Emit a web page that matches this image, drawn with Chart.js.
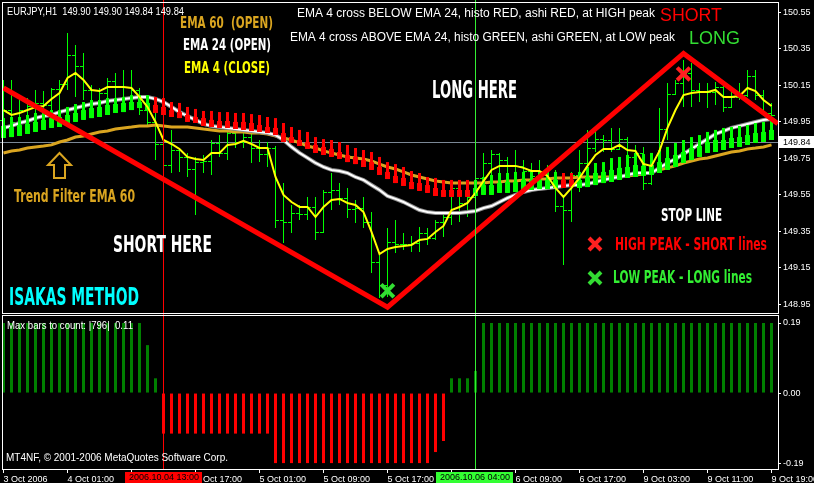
<!DOCTYPE html>
<html>
<head>
<meta charset="utf-8">
<title>EURJPY H1 - Isakas Method</title>
<script src="https://cdn.jsdelivr.net/npm/chart.js@4.4.1/dist/chart.umd.min.js"></script>
<style>
  html, body { margin: 0; padding: 0; background: #000; }
  #wrap { position: relative; width: 814px; height: 483px; overflow: hidden; background: #000; }
  canvas { position: absolute; left: 0; }
  #priceChart { top: 0; }
  #histoChart { top: 314px; }
</style>
</head>
<body>
<div id="wrap">
  <canvas id="priceChart" width="814" height="314"></canvas>
  <canvas id="histoChart" width="814" height="169"></canvas>
</div>
<script>
    // --- DATA (EURJPY H1, one bar per hour, bar 0 = 3 Oct 2006) ---

    const barOpen = [
        149.961,150.015,149.950,150.015,150.037,150.054,150.043,150.130,150.158,150.317,
        150.256,150.125,150.048,150.108,150.174,150.141,150.141,150.125,150.015,149.950,
        149.829,149.714,149.796,149.758,149.692,149.730,149.736,149.835,149.780,149.889,
        149.840,149.867,149.807,149.774,149.807,149.413,149.402,149.451,149.446,149.484,
        149.347,149.566,149.577,149.533,149.473,149.478,149.402,149.183,149.056,149.292,
        149.281,149.281,149.287,149.342,149.314,149.402,149.429,149.588,149.506,149.539,
        149.643,149.725,149.774,149.741,149.709,149.709,149.681,149.654,149.681,149.610,
        149.489,149.467,149.659,149.725,149.807,149.856,149.851,149.802,149.856,149.758,
        149.780,149.615,149.692,149.911,150.103,150.163,150.218,150.125,150.119,150.114,
        150.141,150.032,150.087,150.097,150.202,150.097,149.999
    ];
    const barHigh = [
        150.180,150.180,150.097,150.081,150.125,150.119,150.136,150.180,150.437,150.371,
        150.328,150.152,150.136,150.191,150.218,150.234,150.234,150.136,150.097,150.070,
        149.906,149.906,149.807,149.780,149.758,149.769,149.851,149.878,149.895,149.900,
        149.889,149.889,149.851,149.840,149.818,149.615,149.495,149.495,149.539,149.539,
        149.577,149.670,149.615,149.588,149.522,149.539,149.456,149.221,149.369,149.413,
        149.342,149.325,149.374,149.369,149.413,149.456,149.604,149.599,149.577,149.687,
        149.780,149.796,149.780,149.758,149.796,149.741,149.725,149.741,149.714,149.687,
        149.550,149.676,149.796,149.906,149.906,149.878,149.917,149.917,149.867,149.824,
        149.813,149.741,150.026,150.163,150.180,150.289,150.273,150.163,150.163,150.169,
        150.152,150.141,150.163,150.234,150.234,150.125,150.054
    ];
    const barLow = [
        149.867,149.917,149.933,149.961,149.906,149.999,149.977,149.999,150.125,150.087,
        150.070,150.037,150.015,150.054,149.999,150.070,150.054,149.988,149.933,149.741,
        149.687,149.670,149.676,149.648,149.440,149.670,149.659,149.758,149.741,149.807,
        149.807,149.725,149.730,149.703,149.369,149.287,149.342,149.413,149.413,149.303,
        149.342,149.467,149.495,149.424,149.396,149.369,149.122,148.985,148.991,149.232,
        149.248,149.237,149.237,149.276,149.303,149.320,149.385,149.402,149.429,149.495,
        149.550,149.593,149.659,149.648,149.588,149.648,149.621,149.615,149.577,149.456,
        149.166,149.402,149.566,149.632,149.785,149.785,149.785,149.796,149.730,149.687,
        149.577,149.604,149.670,149.851,150.097,150.032,150.032,150.059,150.026,150.043,
        150.004,150.026,150.070,150.087,150.070,149.982,149.961
    ];
    const barClose = [
        150.015,149.950,150.015,150.037,150.054,150.043,150.130,150.158,150.317,150.256,
        150.125,150.048,150.108,150.174,150.141,150.141,150.125,150.015,149.950,149.829,
        149.714,149.796,149.758,149.692,149.730,149.736,149.835,149.780,149.889,149.840,
        149.867,149.807,149.774,149.807,149.413,149.402,149.451,149.446,149.484,149.347,
        149.566,149.577,149.533,149.473,149.478,149.402,149.183,149.056,149.292,149.281,
        149.281,149.287,149.342,149.314,149.402,149.429,149.588,149.506,149.539,149.643,
        149.725,149.774,149.741,149.709,149.709,149.681,149.654,149.681,149.610,149.489,
        149.467,149.659,149.725,149.807,149.856,149.851,149.802,149.856,149.758,149.780,
        149.615,149.692,149.911,150.103,150.163,150.218,150.125,150.119,150.114,150.141,
        150.032,150.087,150.097,150.202,150.097,149.999,149.988
    ];

    // Heiken Ashi
    const haHigh = [
        149.971,149.977,149.977,149.988,149.999,150.004,150.015,150.015,150.032,150.048,
        150.059,150.070,150.070,150.081,150.081,150.087,150.097,150.097,150.097,150.087,
        150.081,150.059,150.054,150.032,150.021,150.010,150.010,150.004,150.004,149.999,
        149.999,149.993,149.988,149.977,149.971,149.944,149.922,149.906,149.895,149.867,
        149.856,149.851,149.840,149.824,149.807,149.796,149.785,149.758,149.730,149.719,
        149.703,149.681,149.670,149.648,149.643,149.632,149.632,149.632,149.632,149.632,
        149.648,149.659,149.670,149.670,149.676,149.676,149.676,149.676,149.676,149.676,
        149.670,149.670,149.676,149.703,149.725,149.730,149.752,149.758,149.769,149.780,
        149.774,149.780,149.796,149.813,149.835,149.851,149.867,149.878,149.895,149.906,
        149.917,149.922,149.928,149.933,149.944,149.950,149.961
    ];
    const haOpen = [
        149.862,149.867,149.873,149.884,149.895,149.906,149.917,149.922,149.933,149.950,
        149.961,149.971,149.977,149.988,149.999,150.004,150.015,150.026,150.015,150.043,
        150.032,150.015,150.004,149.988,149.977,149.971,149.961,149.955,149.955,149.950,
        149.950,149.944,149.933,149.922,149.917,149.889,149.867,149.851,149.840,149.824,
        149.813,149.802,149.785,149.769,149.758,149.741,149.730,149.703,149.676,149.654,
        149.643,149.621,149.615,149.604,149.588,149.577,149.577,149.577,149.577,149.544,
        149.550,149.550,149.561,149.561,149.566,149.572,149.577,149.582,149.582,149.588,
        149.632,149.632,149.588,149.593,149.604,149.615,149.621,149.632,149.643,149.648,
        149.654,149.659,149.670,149.687,149.703,149.725,149.741,149.758,149.780,149.785,
        149.796,149.807,149.813,149.824,149.835,149.840,149.851
    ];
    const haClose = [
        149.928,149.922,149.933,149.939,149.950,149.961,149.971,149.977,149.988,149.999,
        150.015,150.026,150.032,150.043,150.048,150.054,150.059,150.059,150.054,149.999,
        149.988,149.977,149.971,149.950,149.944,149.928,149.922,149.917,149.917,149.911,
        149.906,149.900,149.895,149.889,149.878,149.840,149.835,149.818,149.802,149.780,
        149.769,149.758,149.747,149.730,149.719,149.703,149.687,149.659,149.637,149.615,
        149.599,149.582,149.572,149.561,149.544,149.539,149.539,149.539,149.539,149.588,
        149.604,149.604,149.615,149.621,149.621,149.632,149.632,149.632,149.632,149.632,
        149.588,149.593,149.632,149.648,149.670,149.676,149.687,149.698,149.703,149.714,
        149.709,149.714,149.730,149.752,149.769,149.785,149.807,149.818,149.840,149.851,
        149.851,149.862,149.867,149.878,149.889,149.895,149.906
    ];

    // Moving averages
    const ema60 = [
        149.780,149.791,149.796,149.807,149.813,149.818,149.824,149.840,149.851,149.867,
        149.873,149.884,149.895,149.900,149.911,149.917,149.922,149.928,149.928,149.933,
        149.928,149.922,149.922,149.922,149.917,149.911,149.906,149.900,149.900,149.895,
        149.895,149.889,149.889,149.884,149.873,149.862,149.851,149.835,149.818,149.807,
        149.791,149.780,149.769,149.758,149.752,149.747,149.736,149.719,149.703,149.692,
        149.676,149.659,149.648,149.637,149.626,149.621,149.615,149.615,149.615,149.615,
        149.615,149.621,149.621,149.626,149.626,149.632,149.632,149.637,149.637,149.643,
        149.643,149.643,149.648,149.648,149.648,149.648,149.648,149.654,149.654,149.659,
        149.665,149.676,149.687,149.698,149.709,149.725,149.736,149.747,149.752,149.763,
        149.774,149.785,149.791,149.802,149.807,149.813,149.824
    ];
    const ema24 = [
        149.917,149.928,149.944,149.955,149.971,149.982,149.988,150.004,150.015,150.026,
        150.037,150.048,150.054,150.065,150.070,150.076,150.081,150.087,150.087,150.076,
        150.059,150.032,150.004,149.982,149.961,149.939,149.928,149.922,149.917,149.911,
        149.906,149.900,149.895,149.889,149.878,149.851,149.813,149.780,149.753,149.725,
        149.703,149.687,149.681,149.670,149.648,149.632,149.604,149.577,149.544,149.528,
        149.511,149.489,149.467,149.456,149.451,149.451,149.451,149.451,149.456,149.462,
        149.478,149.489,149.511,149.533,149.550,149.566,149.577,149.583,149.588,149.593,
        149.599,149.604,149.604,149.610,149.621,149.632,149.643,149.648,149.659,149.670,
        149.670,149.670,149.698,149.725,149.747,149.774,149.802,149.829,149.856,149.884,
        149.900,149.917,149.928,149.939,149.950,149.961,149.966
    ];
    const ema4 = [
        150.015,149.988,149.999,150.015,150.032,150.037,150.076,150.108,150.191,150.218,
        150.180,150.125,150.119,150.141,150.141,150.141,150.136,150.087,150.032,149.950,
        149.851,149.829,149.802,149.758,149.747,149.741,149.780,149.780,149.824,149.829,
        149.846,149.829,149.807,149.807,149.648,149.550,149.511,149.484,149.484,149.429,
        149.484,149.522,149.528,149.506,149.495,149.456,149.347,149.226,149.254,149.265,
        149.270,149.276,149.303,149.309,149.347,149.380,149.467,149.484,149.506,149.561,
        149.626,149.687,149.709,149.709,149.709,149.698,149.681,149.681,149.654,149.588,
        149.539,149.588,149.643,149.709,149.769,149.802,149.802,149.824,149.796,149.791,
        149.719,149.709,149.791,149.917,150.015,150.097,150.108,150.114,150.114,150.125,
        150.087,150.087,150.092,150.136,150.119,150.070,150.037
    ];

    // Histogram (lower window)
    const histo = [
        0.19,0.19,0.19,0.19,0.19,0.19,0.19,0.19,0.19,0.19,
        0.19,0.19,0.19,0.19,0.19,0.19,0.19,0.19,0.13,0.04,
        -0.11,-0.11,-0.11,-0.11,-0.11,-0.11,-0.11,-0.11,-0.11,-0.11,
        -0.11,-0.11,-0.11,-0.11,-0.19,-0.19,-0.19,-0.19,-0.19,-0.19,
        -0.19,-0.19,-0.19,-0.19,-0.19,-0.19,-0.19,-0.19,-0.19,-0.19,
        -0.19,-0.19,-0.19,-0.19,-0.16,-0.13,0.04,0.04,0.04,0.06,
        0.19,0.19,0.19,0.19,0.19,0.19,0.19,0.19,0.19,0.19,
        0.19,0.19,0.19,0.19,0.19,0.19,0.19,0.19,0.19,0.19,
        0.19,0.19,0.19,0.19,0.19,0.19,0.19,0.19,0.19,0.19,
        0.19,0.19,0.19,0.19,0.19,0.19,0.19
    ];

    // Stop lines (zig-zag) and the peaks
    const stopBars = [0, 48, 85, 96.8];
    const stopPrices = [150.136, 148.935, 150.325, 149.940];
    const highPeak = { bar: 85, price: 150.213 };
    const lowPeak = { bar: 48, price: 149.025 };

    const bidPrice = 149.84;

    // Axes
    const priceTicks = [148.95, 149.15, 149.35, 149.55, 149.75, 149.95, 150.15, 150.35, 150.55];
    const histoTicks = [-0.19, 0, 0.19];
    const timeTickBars = [0, 8, 16, 24, 32, 40, 48, 56, 64, 72, 80, 88, 96];
    const timeLabels = ['3 Oct 2006', '4 Oct 01:00', '4 Oct 09:00', '4 Oct 17:00', '5 Oct 01:00',
        '5 Oct 09:00', '5 Oct 17:00', '6 Oct 01:00', '6 Oct 09:00', '6 Oct 17:00',
        '9 Oct 03:00', '9 Oct 11:00', '9 Oct 19:00'];

    // Vertical cross markers
    const markerBars = [20, 59];
    const markerLabels = ['2006.10.04 13:00', '2006.10.06 04:00'];

    // --- STYLE ---
    const xMin = -0.4375, xMax = 96.8125;
    const plainFace = "'Liberation Sans', Arial, sans-serif";
    const boldFace = "'DejaVu Sans', sans-serif";
    const axisFont = { family: plainFace, size: 9 };
    const markerColors = ['#ff0000', '#33ee33'];
    const markerBoxColors = ['#ff0000', '#33ff33'];

    // text, left x, baseline y, width, size, bold, colour
    const priceNotes = [
        ['EURJPY,H1  149.90 149.90 149.84 149.84', 7, 15, 177, 11, false, '#ffffff'],
        ['EMA 60  (OPEN)', 180, 28, 93, 16, true, '#daa520'],
        ['EMA 24 (OPEN)', 183, 50, 88, 16, true, '#ffffff'],
        ['EMA 4 (CLOSE)', 184, 73, 86, 16, true, '#ffff00'],
        ['EMA 4 cross BELOW EMA 24, histo RED, ashi RED, at HIGH peak', 297, 17, 358, 12, false, '#ffffff'],
        ['EMA 4 cross ABOVE EMA 24, histo GREEN, ashi GREEN, at LOW peak', 290, 41, 385, 12, false, '#ffffff'],
        ['SHORT', 660, 21, 62, 18, false, '#ff0000'],
        ['LONG', 689, 44, 51, 18, false, '#33dd33'],
        ['LONG HERE', 432, 98, 85, 24, true, '#ffffff'],
        ['SHORT HERE', 113, 252, 99, 23, true, '#ffffff'],
        ['Trend Filter EMA 60', 14, 202, 121, 18, true, '#daa520'],
        ['ISAKAS METHOD', 9, 305, 130, 24, true, '#00ffff'],
        ['STOP LINE', 661, 221, 61, 17, true, '#ffffff'],
        ['HIGH PEAK - SHORT lines', 615, 250, 152, 18, true, '#ff0000'],
        ['LOW PEAK - LONG lines', 613, 283, 139, 18, true, '#33ee33']
    ];
    const histoNotes = [
        ['Max bars to count: |796|  0.11', 7, 15, 126, 10, false, '#ffffff'],
        ['MT4NF, \u00A9 2001-2006 MetaQuotes Software Corp.', 6, 147, 222, 10, false, '#ffffff']
    ];

    // --- HELPERS ---

    // draws text stretched/squeezed to an exact width
    function fitText(ctx, note) {
        const [text, x, y, width, size, bold, color] = note;
        ctx.save();
        ctx.font = (bold ? 'bold ' : '') + size + 'px ' + (bold ? boldFace : plainFace);
        ctx.fillStyle = color;
        ctx.textAlign = 'left';
        ctx.textBaseline = 'alphabetic';
        const w = ctx.measureText(text).width;
        ctx.translate(x, y);
        ctx.scale(width / w, 1);
        ctx.fillText(text, 0, 0);
        ctx.restore();
    }

    function drawX(ctx, cx, cy, r, color) {
        ctx.save();
        ctx.strokeStyle = color;
        ctx.lineWidth = 4;
        ctx.beginPath();
        ctx.moveTo(cx - r, cy - r); ctx.lineTo(cx + r, cy + r);
        ctx.moveTo(cx + r, cy - r); ctx.lineTo(cx - r, cy + r);
        ctx.stroke();
        ctx.restore();
    }

    function drawMarkerLines(chart) {
        const { ctx, chartArea: a, scales: { x } } = chart;
        ctx.save();
        ctx.lineWidth = 1;
        markerBars.forEach((b, k) => {
            const px = Math.round(x.getPixelForValue(b) - 0.5) + 0.5;
            ctx.strokeStyle = markerColors[k];
            ctx.beginPath();
            ctx.moveTo(px, 0);
            ctx.lineTo(px, a.bottom);
            ctx.stroke();
        });
        ctx.restore();
    }

    function blackBackground(chart) {
        const ctx = chart.ctx;
        ctx.save();
        ctx.fillStyle = '#000';
        ctx.fillRect(0, 0, chart.width, chart.height);
        ctx.restore();
    }

    const toPoints = arr => arr.map((v, i) => ({ x: i, y: v }));

    // --- PRICE WINDOW ---

    const pricePane = {
        id: 'pricePane',
        beforeDraw: blackBackground,
        beforeDatasetsDraw(chart) {
            const { ctx, chartArea: a, scales: { y } } = chart;
            const py = Math.round(y.getPixelForValue(bidPrice)) + 0.5;
            ctx.save();
            ctx.strokeStyle = '#7b8896';
            ctx.lineWidth = 1;
            ctx.beginPath();
            ctx.moveTo(a.left, py);
            ctx.lineTo(a.right, py);
            ctx.stroke();
            ctx.restore();
        },
        afterDatasetDraw(chart, args) {
            if (args.index !== 0) return;
            // open (left) and close (right) ticks of the bars
            const { ctx, scales: { x, y } } = chart;
            ctx.save();
            ctx.fillStyle = '#00ff00';
            barOpen.forEach((o, i) => {
                const px = Math.round(x.getPixelForValue(i) - 0.5);
                ctx.fillRect(px - 3, Math.round(y.getPixelForValue(o)), 3, 1);
                ctx.fillRect(px + 1, Math.round(y.getPixelForValue(barClose[i])), 3, 1);
            });
            ctx.restore();
        },
        afterDatasetsDraw: drawMarkerLines,
        afterDraw(chart) {
            const { ctx, chartArea: a, scales: { y } } = chart;
            ctx.save();
            ctx.strokeStyle = '#ffffff';
            ctx.lineWidth = 1;
            ctx.strokeRect(2.5, 2.5, a.right - 2, a.bottom - 2);

            // trend filter arrow
            ctx.strokeStyle = '#daa520';
            ctx.lineWidth = 2;
            ctx.beginPath();
            ctx.moveTo(54, 178); ctx.lineTo(54, 165); ctx.lineTo(48, 165);
            ctx.lineTo(59.5, 153); ctx.lineTo(71, 165); ctx.lineTo(65, 165);
            ctx.lineTo(65, 178); ctx.closePath();
            ctx.stroke();
            ctx.restore();

            priceNotes.forEach(n => fitText(ctx, n));
            drawX(ctx, 595, 244, 6, '#ff2020');
            drawX(ctx, 595, 278, 6, '#33dd33');

            // current bid label
            const py = Math.round(y.getPixelForValue(bidPrice));
            ctx.save();
            ctx.fillStyle = '#ffffff';
            ctx.fillRect(779, py - 6, 35, 12);
            ctx.fillStyle = '#000000';
            ctx.font = '9px ' + plainFace;
            ctx.textBaseline = 'middle';
            ctx.fillText(bidPrice.toFixed(2), 783, py + 0.5);
            ctx.restore();
        }
    };

    const haColors = haOpen.map((o, i) => haClose[i] >= o ? '#00ff00' : '#ff0000');

    const ctxPrice = document.getElementById('priceChart').getContext('2d');
    new Chart(ctxPrice, {
        type: 'bar',
        data: {
            datasets: [
                {
                    label: 'Bars',
                    data: barHigh.map((h, i) => ({ x: i, y: [barLow[i], h] })),
                    backgroundColor: '#00ff00',
                    barThickness: 1, maxBarThickness: 1, grouped: false, inflateAmount: 0,
                    order: 10
                },
                {
                    type: 'line', label: 'EMA 60',
                    data: toPoints(ema60),
                    borderColor: '#daa520', borderWidth: 3, pointRadius: 0, tension: 0,
                    order: 9
                },
                {
                    type: 'line', label: 'EMA 24 edge',
                    data: toPoints(ema24),
                    borderColor: '#8c8c8c', borderWidth: 4, pointRadius: 0, tension: 0,
                    order: 8
                },
                {
                    type: 'line', label: 'EMA 24',
                    data: toPoints(ema24),
                    borderColor: '#ffffff', borderWidth: 2, pointRadius: 0, tension: 0,
                    order: 7
                },
                {
                    label: 'Heiken Ashi wick',
                    data: haHigh.map((h, i) => ({ x: i, y: [Math.min(haOpen[i], haClose[i]), h] })),
                    backgroundColor: haColors,
                    barThickness: 3, maxBarThickness: 3, grouped: false, inflateAmount: 0,
                    order: 6
                },
                {
                    label: 'Heiken Ashi body',
                    data: haOpen.map((o, i) => ({ x: i, y: [o, haClose[i]] })),
                    backgroundColor: haColors,
                    barThickness: 5, maxBarThickness: 5, grouped: false, inflateAmount: 0,
                    order: 5
                },
                {
                    type: 'line', label: 'EMA 4',
                    data: toPoints(ema4),
                    borderColor: '#ffff00', borderWidth: 2, pointRadius: 0, tension: 0,
                    order: 4
                },
                {
                    type: 'line', label: 'Stop line',
                    data: stopBars.map((b, k) => ({ x: b, y: stopPrices[k] })),
                    borderColor: '#ff0000', borderWidth: 5, pointRadius: 0, tension: 0,
                    order: 3
                },
                {
                    type: 'line', label: 'High peak',
                    data: [{ x: highPeak.bar, y: highPeak.price }],
                    showLine: false, pointStyle: 'crossRot', pointRadius: 9,
                    pointBorderWidth: 4, pointBorderColor: '#ff2020',
                    order: 2
                },
                {
                    type: 'line', label: 'Low peak',
                    data: [{ x: lowPeak.bar, y: lowPeak.price }],
                    showLine: false, pointStyle: 'crossRot', pointRadius: 9,
                    pointBorderWidth: 4, pointBorderColor: '#33dd33',
                    order: 1
                }
            ]
        },
        options: {
            responsive: false,
            animation: false,
            events: [],
            layout: { autoPadding: false, padding: { top: 2, bottom: 1, left: 0, right: 0 } },
            plugins: { legend: { display: false }, tooltip: { enabled: false } },
            scales: {
                x: {
                    type: 'linear', min: xMin, max: xMax, offset: false, display: false,
                    grid: { offset: false }
                },
                y: {
                    position: 'right', min: 148.903, max: 150.607,
                    afterBuildTicks: s => { s.ticks = priceTicks.map(v => ({ value: v })); },
                    afterFit: s => { s.width = 36; s.paddingTop = 0; s.paddingBottom = 0; },
                    grid: { drawOnChartArea: false, drawTicks: true, tickLength: 3, color: '#ffffff' },
                    border: { display: false },
                    ticks: { color: '#ffffff', font: axisFont, padding: 2, callback: v => v.toFixed(2) }
                }
            }
        },
        plugins: [pricePane]
    });

    // --- HISTOGRAM WINDOW ---

    const histoPane = {
        id: 'histoPane',
        beforeDraw: blackBackground,
        afterDatasetsDraw: drawMarkerLines,
        afterDraw(chart) {
            const { ctx, chartArea: a, scales: { x } } = chart;
            ctx.save();
            ctx.strokeStyle = '#ffffff';
            ctx.lineWidth = 1;
            ctx.strokeRect(2.5, 1.5, a.right - 2, a.bottom - 1);
            ctx.restore();
            histoNotes.forEach(n => fitText(ctx, n));

            // highlighted dates of the crosses
            ctx.save();
            ctx.font = '9px ' + plainFace;
            ctx.textAlign = 'center';
            ctx.textBaseline = 'middle';
            markerBars.forEach((b, k) => {
                const cx = Math.round(x.getPixelForValue(b));
                ctx.fillStyle = markerBoxColors[k];
                ctx.fillRect(cx - 39, 158, 77, 11);
                ctx.fillStyle = '#000000';
                ctx.fillText(markerLabels[k], cx, 164);
            });
            ctx.restore();
        }
    };

    const ctxHisto = document.getElementById('histoChart').getContext('2d');
    new Chart(ctxHisto, {
        type: 'bar',
        data: {
            datasets: [{
                label: 'Histogram',
                data: toPoints(histo),
                backgroundColor: histo.map(v => v >= 0 ? '#008000' : '#ff0000'),
                barThickness: 3, maxBarThickness: 3, grouped: false, inflateAmount: 0
            }]
        },
        options: {
            responsive: false,
            animation: false,
            events: [],
            layout: { autoPadding: false, padding: { top: 1, bottom: 0, left: 0, right: 0 } },
            plugins: { legend: { display: false }, tooltip: { enabled: false } },
            scales: {
                x: {
                    type: 'linear', min: xMin, max: xMax, offset: false, position: 'bottom',
                    afterBuildTicks: s => { s.ticks = timeTickBars.map(v => ({ value: v })); },
                    afterFit: s => { s.height = 14; s.paddingLeft = 0; s.paddingRight = 0; },
                    grid: { drawOnChartArea: false, drawTicks: true, tickLength: 4, color: '#ffffff', offset: false },
                    border: { display: false },
                    ticks: {
                        color: '#ffffff', font: axisFont, padding: 1, align: 'start',
                        autoSkip: false, maxRotation: 0, minRotation: 0,
                        callback: (v, i) => timeLabels[i]
                    }
                },
                y: {
                    position: 'right', min: -0.206, max: 0.2117,
                    afterBuildTicks: s => { s.ticks = histoTicks.map(v => ({ value: v })); },
                    afterFit: s => { s.width = 36; s.paddingTop = 0; s.paddingBottom = 0; },
                    grid: { drawOnChartArea: false, drawTicks: true, tickLength: 3, color: '#ffffff' },
                    border: { display: false },
                    ticks: { color: '#ffffff', font: axisFont, padding: 2, callback: v => v.toFixed(2) }
                }
            }
        },
        plugins: [histoPane]
    });
</script>
</body>
</html>
